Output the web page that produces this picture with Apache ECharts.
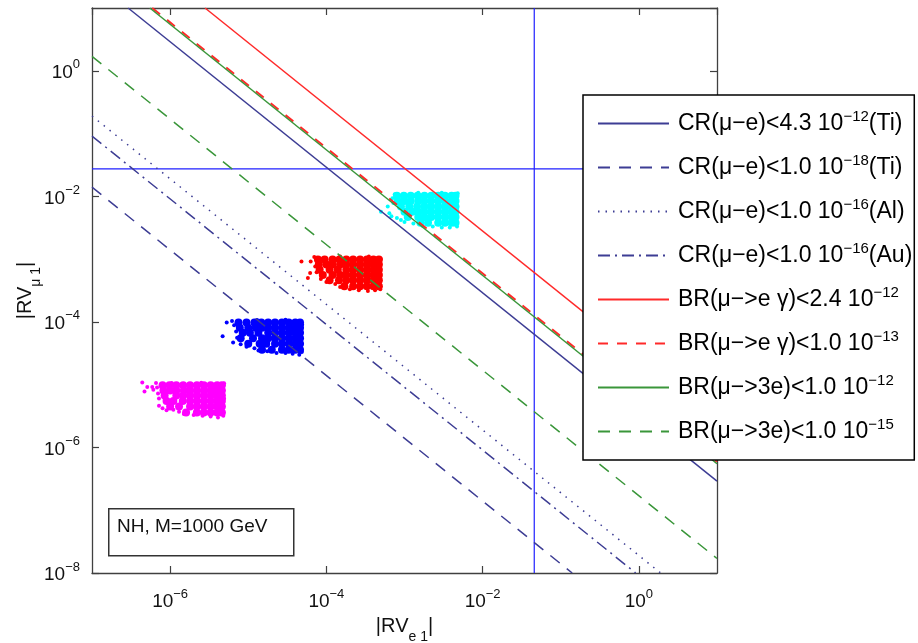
<!DOCTYPE html>
<html>
<head>
<meta charset="utf-8">
<script src="https://cdn.jsdelivr.net/npm/echarts@6/dist/echarts.min.js"></script>
<style>
html,body{margin:0;padding:0;background:#fff;}
#chart{width:918px;height:643px;}
</style>
</head>
<body>
<div id="chart"></div>
<script>
// ---------- data ----------
const xRange = [1e-7, 10];
const yRange = [1e-8, 10];
const xExpRange = [-7, 1];
const yExpRange = [-8, 1];

const lineNames = [
  'CR(μ−e)<4.3 10^−12(Ti)',
  'CR(μ−e)<1.0 10^−18(Ti)',
  'CR(μ−e)<1.0 10^−16(Al)',
  'CR(μ−e)<1.0 10^−16(Au)',
  'BR(μ−>e γ)<2.4 10^−12',
  'BR(μ−>e γ)<1.0 10^−13',
  'BR(μ−>3e)<1.0 10^−12',
  'BR(μ−>3e)<1.0 10^−15'
];
// end points of each bound line
const crTi43 = [[2.9e-7, 10], [10, 2.9e-7]];
const crTi18 = [[1e-7, 1.4e-2], [1.4e-1, 1e-8]];
const crAl16 = [[1e-7, 1.9e-1], [1.9, 1e-8]];
const crAu16 = [[1e-7, 9.1e-2], [9.1e-1, 1e-8]];
const brMeg24 = [[2.8e-6, 10], [10, 2.8e-6]];
const brMeg13 = [[5.9e-7, 10], [10, 5.9e-7]];
const br3e12 = [[5.5e-7, 10], [10, 5.5e-7]];
const br3e15 = [[1e-7, 1.7], [10, 1.7e-8]];
const hRefLine = [[1e-7, 2.74e-2], [10, 2.74e-2]];
const vRefLine = [[4.58e-2, 1e-8], [4.58e-2, 10]];

// scatter clouds
const magentaCore = [
  [0.8e-6,9.8e-6],[0.98e-6,9.8e-6],[1.2e-6,9.8e-6],[1.47e-6,9.8e-6],[1.8e-6,9.8e-6],[2.2e-6,9.8e-6],[2.7e-6,9.8e-6],[3.3e-6,9.8e-6],[4.0e-6,9.8e-6],[4.6e-6,9.8e-6],
  [0.82e-6,8.1e-6],[1.0e-6,8.1e-6],[1.2e-6,8.1e-6],[1.5e-6,8.1e-6],[1.8e-6,8.1e-6],[2.2e-6,8.1e-6],[2.7e-6,8.1e-6],[3.3e-6,8.1e-6],[4.0e-6,8.1e-6],[4.6e-6,8.1e-6],
  [0.85e-6,6.7e-6],[1.2e-6,6.7e-6],[1.47e-6,6.7e-6],[1.8e-6,6.7e-6],[2.2e-6,6.7e-6],[2.7e-6,6.7e-6],[3.3e-6,6.7e-6],[4.0e-6,6.7e-6],[4.6e-6,6.7e-6],
  [0.9e-6,5.5e-6],[1.1e-6,5.5e-6],[1.45e-6,5.5e-6],[1.8e-6,5.5e-6],[2.2e-6,5.5e-6],[2.7e-6,5.5e-6],[3.3e-6,5.5e-6],[4.0e-6,5.5e-6],[4.6e-6,5.5e-6],
  [1.0e-6,4.5e-6],[1.3e-6,4.5e-6],[1.8e-6,4.5e-6],[2.2e-6,4.5e-6],[2.7e-6,4.5e-6],[3.3e-6,4.5e-6],[4.0e-6,4.5e-6],[4.6e-6,4.5e-6],
  [1.6e-6,3.6e-6],[2.2e-6,3.6e-6],[2.7e-6,3.6e-6],[3.3e-6,3.6e-6],[4.0e-6,3.6e-6],[4.6e-6,3.6e-6]
];
const magentaEdge = [
  [0.44e-6,10.8e-6],[0.51e-6,9.2e-6],[0.59e-6,9.2e-6],[0.47e-6,7.8e-6],[0.61e-6,8.3e-6],[0.66e-6,10.6e-6],
  [0.68e-6,9.0e-6],[0.7e-6,7.2e-6],[0.72e-6,6.0e-6],[0.72e-6,4.6e-6],[0.8e-6,4.2e-6],[0.9e-6,3.9e-6],
  [1.1e-6,4.0e-6],[1.3e-6,3.7e-6],[1.5e-6,3.4e-6],[2.0e-6,3.3e-6],[2.6e-6,3.2e-6],[3.3e-6,3.1e-6],
  [4.1e-6,3.0e-6],[4.8e-6,3.2e-6],[4.9e-6,10.5e-6],[4.9e-6,6.0e-6],[1.05e-6,10.6e-6],[2.5e-6,10.7e-6]
];
const blueCore = [
  [0.75e-5,9.8e-5],[0.95e-5,9.8e-5],[1.2e-5,9.8e-5],[1.47e-5,9.8e-5],[1.8e-5,9.8e-5],[2.2e-5,9.8e-5],[2.7e-5,9.8e-5],[3.3e-5,9.8e-5],[4.0e-5,9.8e-5],[4.6e-5,9.8e-5],
  [0.78e-5,8.1e-5],[1.0e-5,8.1e-5],[1.25e-5,8.1e-5],[1.5e-5,8.1e-5],[1.8e-5,8.1e-5],[2.2e-5,8.1e-5],[2.7e-5,8.1e-5],[3.3e-5,8.1e-5],[4.0e-5,8.1e-5],[4.6e-5,8.1e-5],
  [0.85e-5,6.7e-5],[1.05e-5,6.7e-5],[1.35e-5,6.7e-5],[1.8e-5,6.7e-5],[2.2e-5,6.7e-5],[2.7e-5,6.7e-5],[3.3e-5,6.7e-5],[4.0e-5,6.7e-5],[4.6e-5,6.7e-5],
  [0.8e-5,5.5e-5],[1.15e-5,5.5e-5],[1.5e-5,5.5e-5],[1.8e-5,5.5e-5],[2.2e-5,5.5e-5],[2.7e-5,5.5e-5],[3.3e-5,5.5e-5],[4.0e-5,5.5e-5],[4.6e-5,5.5e-5],
  [1.0e-5,4.5e-5],[1.4e-5,4.5e-5],[1.7e-5,4.5e-5],[2.2e-5,4.5e-5],[2.7e-5,4.5e-5],[3.3e-5,4.5e-5],[4.0e-5,4.5e-5],[4.6e-5,4.5e-5],
  [1.5e-5,3.6e-5],[2.0e-5,3.6e-5],[2.7e-5,3.6e-5],[3.3e-5,3.6e-5],[4.0e-5,3.6e-5],[4.6e-5,3.6e-5]
];
const blueEdge = [
  [0.47e-5,5.9e-5],[0.53e-5,9.8e-5],[0.64e-5,4.7e-5],[0.62e-5,10.3e-5],[0.66e-5,8.8e-5],[0.7e-5,7.0e-5],
  [0.72e-5,5.6e-5],[0.8e-5,4.4e-5],[0.95e-5,4.0e-5],[1.2e-5,3.8e-5],[1.35e-5,3.5e-5],[1.75e-5,3.4e-5],
  [2.3e-5,3.2e-5],[3.0e-5,3.2e-5],[3.7e-5,3.1e-5],[4.5e-5,3.0e-5],[4.85e-5,3.3e-5],[4.9e-5,9.0e-5],
  [1.3e-5,10.7e-5],[3.0e-5,10.8e-5]
];
const redCore = [
  [0.78e-4,9.9e-4],[0.95e-4,9.9e-4],[1.2e-4,9.9e-4],[1.47e-4,9.9e-4],[1.8e-4,9.9e-4],[2.2e-4,9.9e-4],[2.7e-4,9.9e-4],[3.3e-4,9.9e-4],[4.0e-4,9.9e-4],[4.7e-4,9.9e-4],
  [0.8e-4,8.2e-4],[1.0e-4,8.2e-4],[1.2e-4,8.2e-4],[1.5e-4,8.2e-4],[1.8e-4,8.2e-4],[2.2e-4,8.2e-4],[2.7e-4,8.2e-4],[3.3e-4,8.2e-4],[4.0e-4,8.2e-4],[4.7e-4,8.2e-4],
  [0.82e-4,6.8e-4],[1.1e-4,6.8e-4],[1.4e-4,6.8e-4],[1.8e-4,6.8e-4],[2.2e-4,6.8e-4],[2.7e-4,6.8e-4],[3.3e-4,6.8e-4],[4.0e-4,6.8e-4],[4.7e-4,6.8e-4],
  [0.9e-4,5.6e-4],[1.2e-4,5.6e-4],[1.5e-4,5.6e-4],[1.8e-4,5.6e-4],[2.2e-4,5.6e-4],[2.7e-4,5.6e-4],[3.3e-4,5.6e-4],[4.0e-4,5.6e-4],[4.7e-4,5.6e-4],
  [1.1e-4,4.6e-4],[1.45e-4,4.6e-4],[1.8e-4,4.6e-4],[2.2e-4,4.6e-4],[2.7e-4,4.6e-4],[3.3e-4,4.6e-4],[4.0e-4,4.6e-4],[4.7e-4,4.6e-4],
  [1.7e-4,3.7e-4],[2.2e-4,3.7e-4],[2.7e-4,3.7e-4],[3.3e-4,3.7e-4],[4.0e-4,3.7e-4],[4.7e-4,3.7e-4]
];
const redEdge = [
  [0.48e-4,9.2e-4],[0.63e-4,9.2e-4],[0.58e-4,5.0e-4],[0.62e-4,6.0e-4],[0.7e-4,10.8e-4],[0.72e-4,7.6e-4],
  [0.75e-4,6.2e-4],[0.85e-4,4.8e-4],[1.0e-4,4.3e-4],[1.3e-4,4.0e-4],[1.5e-4,3.6e-4],[2.0e-4,3.3e-4],
  [2.6e-4,3.2e-4],[3.4e-4,3.1e-4],[4.2e-4,3.2e-4],[4.9e-4,3.3e-4],[4.95e-4,10.0e-4],[1.5e-4,11.0e-4],
  [3.5e-4,11.0e-4]
];
const cyanCore = [
  [0.8e-3,10.2e-3],[0.98e-3,10.2e-3],[1.2e-3,10.2e-3],[1.47e-3,10.2e-3],[1.8e-3,10.2e-3],[2.2e-3,10.2e-3],[2.7e-3,10.2e-3],[3.3e-3,10.2e-3],[4.0e-3,10.2e-3],[4.5e-3,10.2e-3],
  [0.82e-3,8.4e-3],[1.0e-3,8.4e-3],[1.2e-3,8.4e-3],[1.5e-3,8.4e-3],[1.8e-3,8.4e-3],[2.2e-3,8.4e-3],[2.7e-3,8.4e-3],[3.3e-3,8.4e-3],[4.0e-3,8.4e-3],[4.5e-3,8.4e-3],
  [0.9e-3,6.9e-3],[1.15e-3,6.9e-3],[1.45e-3,6.9e-3],[1.8e-3,6.9e-3],[2.2e-3,6.9e-3],[2.7e-3,6.9e-3],[3.3e-3,6.9e-3],[4.0e-3,6.9e-3],[4.5e-3,6.9e-3],
  [1.0e-3,5.7e-3],[1.25e-3,5.7e-3],[1.5e-3,5.7e-3],[1.8e-3,5.7e-3],[2.2e-3,5.7e-3],[2.7e-3,5.7e-3],[3.3e-3,5.7e-3],[4.0e-3,5.7e-3],[4.5e-3,5.7e-3],
  [1.1e-3,4.7e-3],[1.5e-3,4.7e-3],[1.8e-3,4.7e-3],[2.2e-3,4.7e-3],[2.7e-3,4.7e-3],[3.3e-3,4.7e-3],[4.0e-3,4.7e-3],[4.5e-3,4.7e-3],
  [1.6e-3,3.8e-3],[2.0e-3,3.8e-3],[2.7e-3,3.8e-3],[3.3e-3,3.8e-3],[4.0e-3,3.8e-3],[4.5e-3,3.8e-3]
];
const cyanEdge = [
  [0.5e-3,5.7e-3],[0.61e-3,6.9e-3],[0.68e-3,4.8e-3],[0.64e-3,5.4e-3],[0.72e-3,7.8e-3],[0.75e-3,10.8e-3],
  [0.7e-3,9.3e-3],[0.8e-3,4.5e-3],[0.9e-3,4.2e-3],[1.0e-3,3.9e-3],[1.3e-3,3.7e-3],[1.7e-3,3.4e-3],
  [2.3e-3,3.3e-3],[3.0e-3,3.2e-3],[3.8e-3,3.2e-3],[4.7e-3,3.3e-3],[4.8e-3,11.2e-3],[1.5e-3,11.4e-3],
  [3.0e-3,11.4e-3]
];
const noteText = 'NH, M=1000 GeV';

// ---------- styling ----------
const FONT = '"Liberation Sans", Arial, sans-serif';
const AXC = '#404040';
const CRC = '#3d3d94';
const REDC = '#ff2a2a';
const GRC = '#3a963a';

function supLabel(v) {
  const e = Math.round(v);
  const s = e < 0 ? '−' + (-e) : String(e);
  return '{b|10}{s|' + s + '}';
}
const tickRich = {
  b: {fontSize: 19, lineHeight: 22, fontFamily: FONT, color: '#111', padding: [4, 0, 0, 0]},
  s: {fontSize: 13, lineHeight: 14, fontFamily: FONT, color: '#111', padding: [0, 0, 12, 0]}
};
const nameRich = {
  b: {fontSize: 20, lineHeight: 24, fontFamily: FONT, color: '#111'},
  s: {fontSize: 14, lineHeight: 14, fontFamily: FONT, color: '#111', padding: [22, 0, 0, 0]}
};

function lineSeries(name, data, color, type, width) {
  return {
    name: name, type: 'line', data: data, xAxisIndex: 0, yAxisIndex: 0,
    symbol: 'none', clip: true, silent: true, z: 3,
    itemStyle: {color: color},
    lineStyle: {color: color, width: width || 1.5, type: type}
  };
}
function scatterSeries(data, color, size) {
  return {
    type: 'scatter', data: data, xAxisIndex: 0, yAxisIndex: 0,
    symbol: 'circle', symbolSize: size, silent: true, z: 2,
    itemStyle: {color: color, opacity: 1}
  };
}
const tickStyle = {show: true, inside: true, length: 7, lineStyle: {color: AXC, width: 1.2}};
const lineStyleAx = {show: true, onZero: false, lineStyle: {color: AXC, width: 1.3}};

const chart = echarts.init(document.getElementById('chart'), null, {renderer: 'canvas'});
const option = {
  animation: false,
  backgroundColor: '#fff',
  grid: {left: 92, right: 201, top: 8, bottom: 70, containLabel: false, outerBoundsMode: 'none'},
  xAxis: [
    {type: 'log', logBase: 10, min: xRange[0], max: xRange[1], position: 'bottom',
     axisLine: lineStyleAx,
     axisTick: {show: false}, axisLabel: {show: false}, splitLine: {show: false}, minorTick: {show: false},
     name: '{b||RV}{s|e 1}{b||}', nameLocation: 'middle', nameGap: 41,
     nameTextStyle: {rich: nameRich}},
    {type: 'value', min: xExpRange[0], max: xExpRange[1], splitNumber: 4, position: 'bottom',
     axisLine: {show: false, onZero: false}, axisTick: tickStyle,
     axisLabel: {show: true, margin: 16, formatter: supLabel, rich: tickRich, showMinLabel: false, showMaxLabel: false},
     splitLine: {show: false}},
    {type: 'value', min: xExpRange[0], max: xExpRange[1], splitNumber: 4, position: 'top',
     axisLine: lineStyleAx, axisTick: tickStyle,
     axisLabel: {show: false}, splitLine: {show: false}}
  ],
  yAxis: [
    {type: 'log', logBase: 10, min: yRange[0], max: yRange[1], position: 'left',
     axisLine: lineStyleAx,
     axisTick: {show: false}, axisLabel: {show: false}, splitLine: {show: false}, minorTick: {show: false},
     name: '{b||RV}{s|μ 1}{b||}', nameLocation: 'middle', nameGap: 55, nameRotate: 90,
     nameTextStyle: {rich: nameRich}},
    {type: 'value', min: yExpRange[0], max: yExpRange[1], interval: 2, position: 'left',
     axisLine: {show: false, onZero: false}, axisTick: tickStyle,
     axisLabel: {show: true, margin: 12, formatter: supLabel, rich: tickRich, showMaxLabel: false},
     splitLine: {show: false}},
    {type: 'value', min: yExpRange[0], max: yExpRange[1], interval: 2, position: 'right',
     axisLine: lineStyleAx, axisTick: tickStyle,
     axisLabel: {show: false}, splitLine: {show: false}}
  ],
  legend: {
    data: lineNames, orient: 'vertical', left: 583, top: 95,
    backgroundColor: '#fff', borderColor: '#000', borderWidth: 1.5, borderRadius: 0,
    padding: [14, 2, 14, 14], itemGap: 15, itemWidth: 71, itemHeight: 12,
    selectedMode: false, z: 10,
    lineStyle: {width: 2},
    itemStyle: {color: 'rgba(0,0,0,0)', opacity: 0, borderWidth: 0},
    formatter: function (n) {
      return '{b|' + n.replace(/\^([−0-9]+)/, '}{s|$1}{b|') + '}';
    },
    textStyle: {
      color: '#000', fontFamily: FONT, padding: [0, 0, 0, 4],
      rich: {
        b: {fontSize: 23, lineHeight: 30, fontFamily: FONT, color: '#000'},
        s: {fontSize: 15, lineHeight: 16, fontFamily: FONT, color: '#000', padding: [0, 0, 14, 0]}
      }
    }
  },
  graphic: [
    {type: 'rect', left: 108, top: 508, z: 20,
     shape: {width: 185, height: 47},
     style: {fill: '#fff', stroke: '#333', lineWidth: 1.5}},
    {type: 'text', left: 117, top: 517, z: 21,
     style: {text: noteText, fontSize: 19, fontFamily: FONT, fill: '#111'}}
  ],
  series: [
    scatterSeries(magentaCore, '#ff00ff', 8),
    scatterSeries(magentaEdge, '#ff00ff', 4),
    scatterSeries(blueCore, '#0000ff', 8),
    scatterSeries(blueEdge, '#0000ff', 4),
    scatterSeries(redCore, '#ff0000', 8),
    scatterSeries(redEdge, '#ff0000', 4),
    scatterSeries(cyanCore, '#00ffff', 8),
    scatterSeries(cyanEdge, '#00ffff', 4),
    {type: 'line', data: hRefLine, symbol: 'none', silent: true, z: 3,
     lineStyle: {color: '#1f1fff', width: 1.2}},
    {type: 'line', data: vRefLine, symbol: 'none', silent: true, z: 3,
     lineStyle: {color: '#1f1fff', width: 1.2}},
    lineSeries(lineNames[0], crTi43, CRC, 'solid'),
    lineSeries(lineNames[1], crTi18, CRC, [12, 9]),
    lineSeries(lineNames[2], crAl16, CRC, [1.5, 6]),
    lineSeries(lineNames[3], crAu16, CRC, [12, 5, 2, 5]),
    lineSeries(lineNames[4], brMeg24, REDC, 'solid'),
    lineSeries(lineNames[5], brMeg13, REDC, [10, 9], 2),
    lineSeries(lineNames[6], br3e12, GRC, 'solid'),
    lineSeries(lineNames[7], br3e15, GRC, [12, 9])
  ]
};
chart.setOption(option);
</script>
</body>
</html>
